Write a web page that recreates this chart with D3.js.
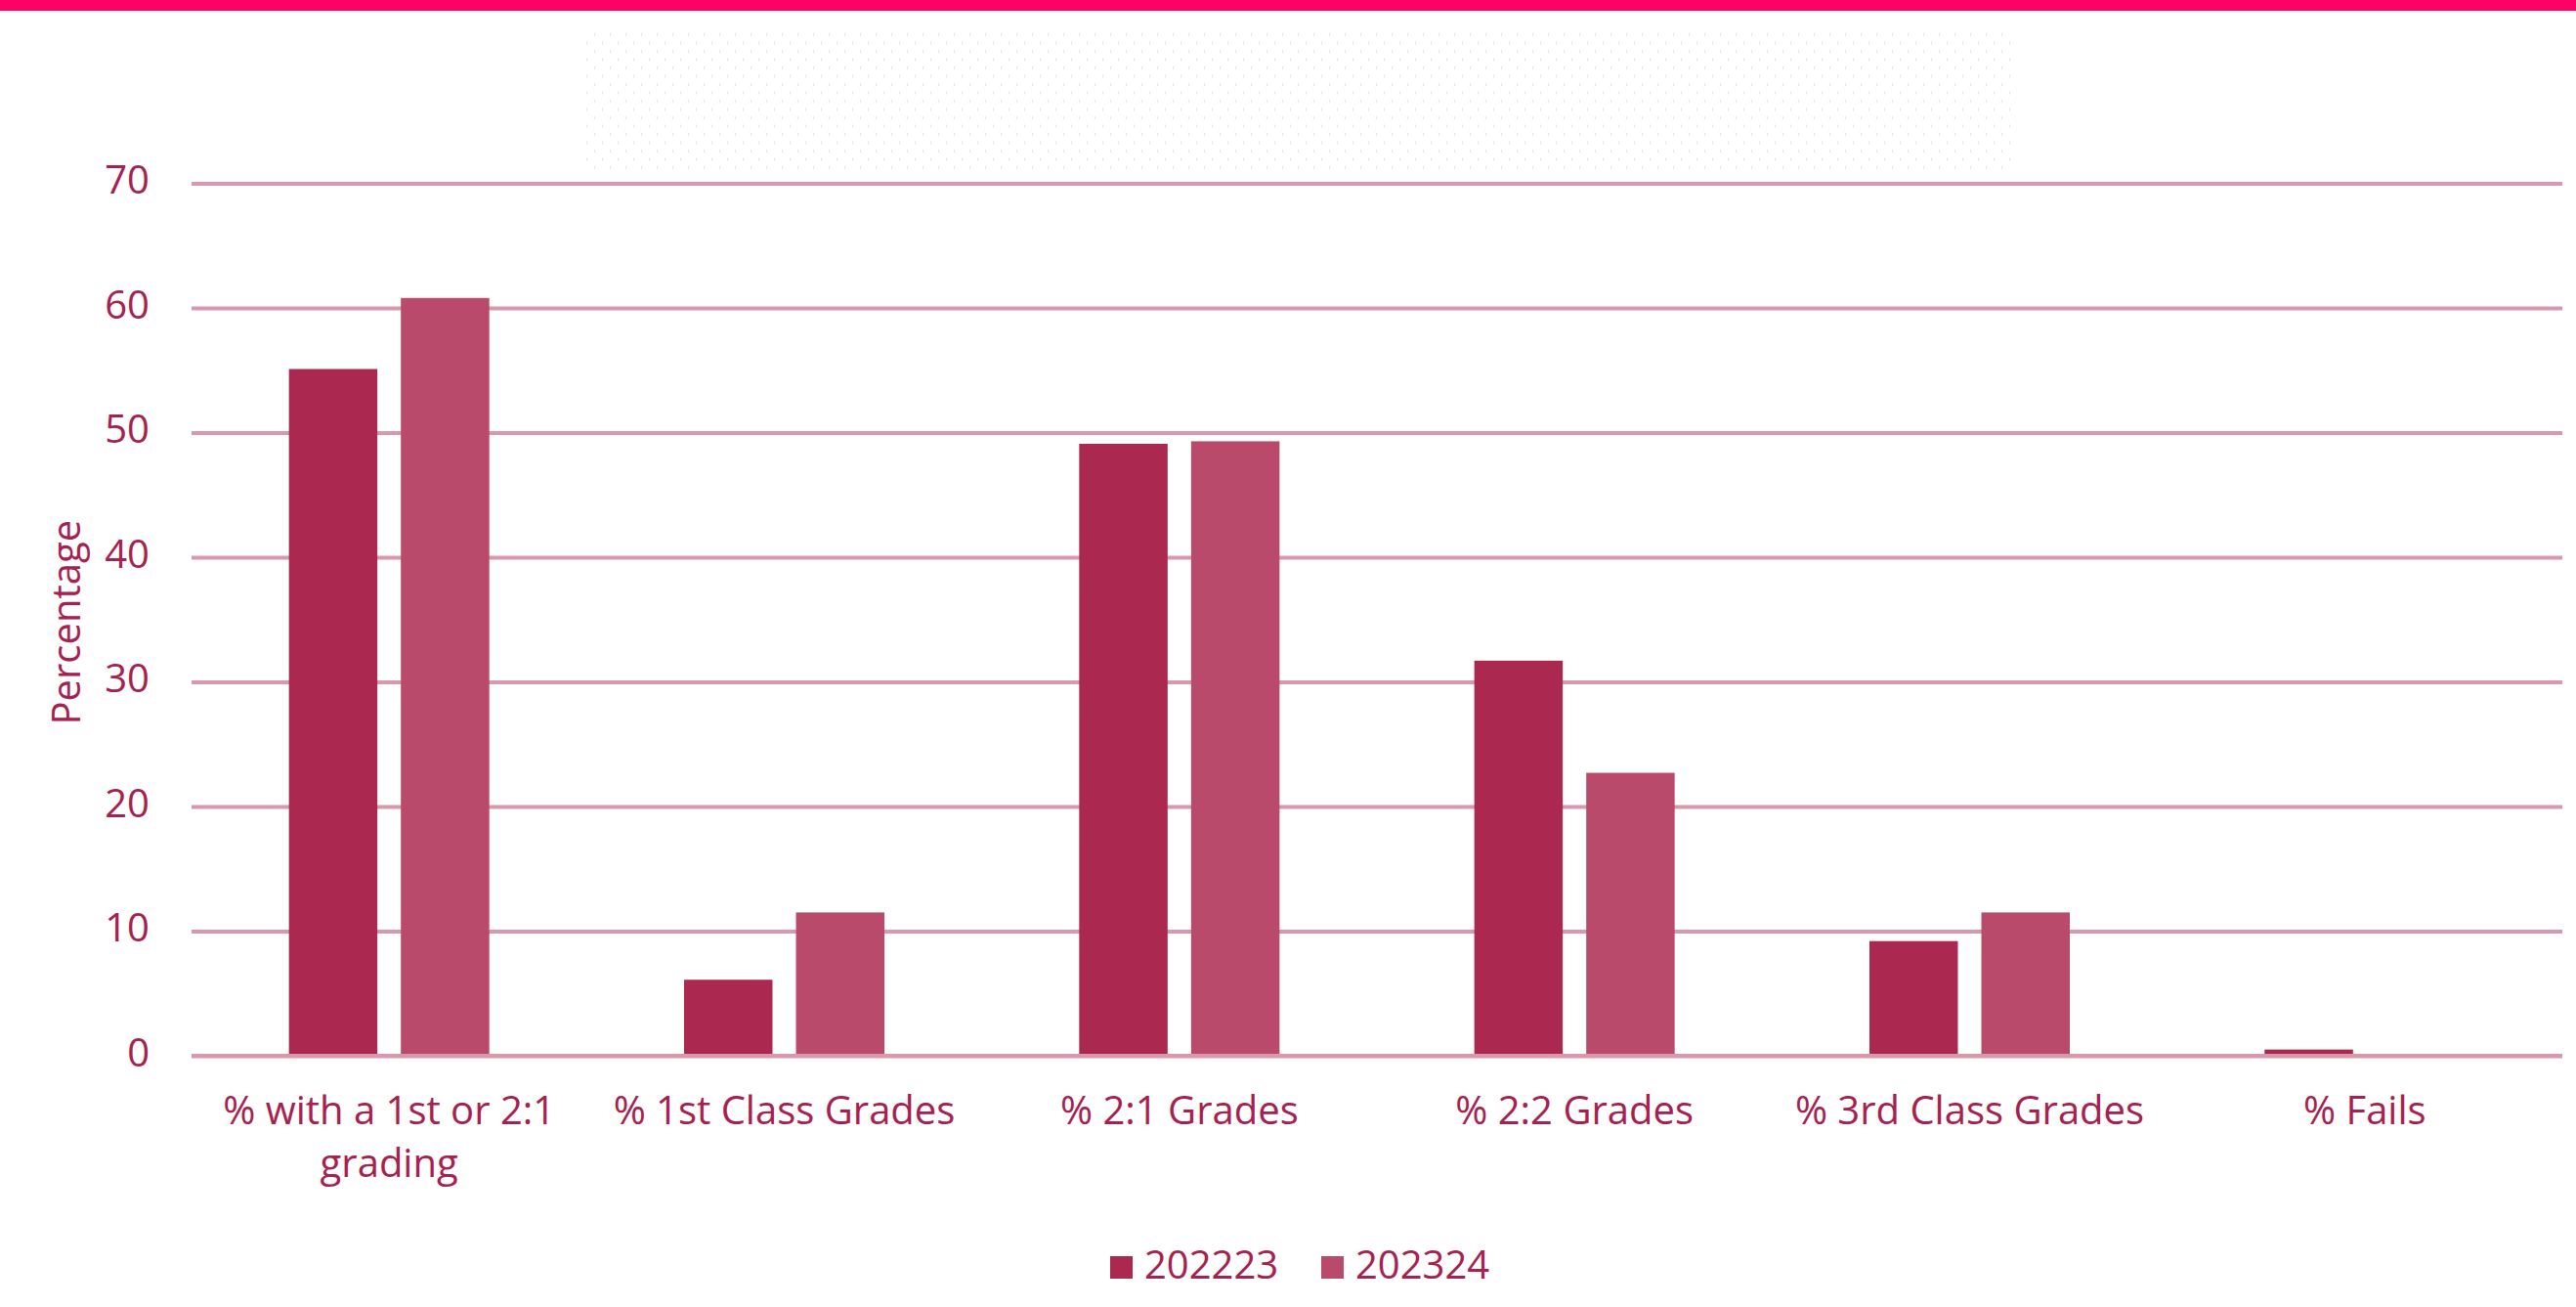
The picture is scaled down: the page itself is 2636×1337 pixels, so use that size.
<!DOCTYPE html>
<html>
<head>
	<meta charset="utf-8">
	<title> degree classifications </title>
	<script src="https://d3js.org/d3.v7.min.js"></script>
	<style>
		body { margin: 0; background: #fff; }
		svg text { font-family: "Open Sans", sans-serif; fill: #a6214f; }
	</style>
</head>
<body>
	<svg width="2636" height="1337"></svg>
	<script type="text/javascript">
		// data
		let categories = ["% with a 1st or 2:1 grading", "% 1st Class Grades", "% 2:1 Grades",
		                  "% 2:2 Grades", "% 3rd Class Grades", "% Fails"];
		let categoryLines = [["% with a 1st or 2:1", "grading"], ["% 1st Class Grades"], ["% 2:1 Grades"],
		                     ["% 2:2 Grades"], ["% 3rd Class Grades"], ["% Fails"]];
		let series = ["202223", "202324"];
		let values202223 = [55.1, 6.1, 49.1, 31.7, 9.2, 0.5];
		let values202324 = [60.8, 11.5, 49.3, 22.7, 11.5, 0];
		let yTicks = [0, 10, 20, 30, 40, 50, 60, 70];
		let colorSet = ["#ab2850", "#b94a6c"];

		let svg = d3.select("svg");
		let plotLeft = 196, plotRight = 2622, plotTop = 187.5, plotBottom = 1080;

		// pink strip on top
		svg.append("rect").attr("x", 0).attr("y", 0).attr("width", 2636).attr("height", 11).attr("fill", "#ff0066");

		// faint dotted panel behind the top of the chart
		let defs = svg.append("defs");
		let pat = defs.append("pattern").attr("id", "dots").attr("patternUnits", "userSpaceOnUse")
			.attr("width", 16).attr("height", 17);
		pat.append("rect").attr("x", 0).attr("y", 0).attr("width", 1).attr("height", 3).attr("fill", "#e6e6e6");
		pat.append("rect").attr("x", 8).attr("y", 8.5).attr("width", 1).attr("height", 3).attr("fill", "#e6e6e6");
		svg.append("rect").attr("x", 594).attr("y", 32).attr("width", 1470).attr("height", 146).attr("fill", "url(#dots)");

		let y = d3.scaleLinear().domain([0, 70]).range([plotBottom, plotTop]);
		let x0 = d3.scaleBand().domain(categories).range([plotLeft, plotRight]);
		let x1 = d3.scaleBand().domain(series).range([0, x0.bandwidth()]).paddingInner(0.21).paddingOuter(0.87);

		// grid + tick labels
		let yAxis = svg.append("g").attr("transform", "translate(" + plotLeft + ",0)")
			.call(d3.axisLeft(y).tickValues(yTicks).tickSize(-(plotRight - plotLeft)).tickPadding(43));
		yAxis.select(".domain").remove();
		yAxis.selectAll(".tick line").attr("stroke", "#d998ac").attr("stroke-width", 4);
		yAxis.selectAll(".tick text").attr("dy", "0.25em").style("font-size", "40px");

		// bars
		let rows = categories.map(function(c, i) { return { cat: c, vals: [values202223[i], values202324[i]] }; });
		let groups = svg.selectAll("g.grp").data(rows).join("g").attr("class", "grp")
			.attr("transform", function(d) { return "translate(" + x0(d.cat) + ",0)"; });
		groups.selectAll("rect").data(function(d) { return d.vals.map(function(v, i) { return { s: series[i], v: v, i: i }; }); })
			.join("rect")
			.attr("x", function(d) { return x1(d.s); })
			.attr("y", function(d) { return y(d.v); })
			.attr("width", x1.bandwidth())
			.attr("height", function(d) { return y(0) - y(d.v); })
			.attr("fill", function(d) { return colorSet[d.i]; });

		// baseline over the bars
		svg.append("line").attr("x1", plotLeft).attr("x2", plotRight).attr("y1", y(0)).attr("y2", y(0))
			.attr("stroke", "#d998ac").attr("stroke-width", 4);

		// category labels
		let xLab = svg.append("g");
		xLab.selectAll("text").data(categories).join("text")
			.attr("x", function(d) { return x0(d) + x0.bandwidth() / 2; })
			.attr("y", y(0) + 70)
			.attr("text-anchor", "middle")
			.style("font-size", "40px")
			.each(function(d, i) {
				let t = d3.select(this);
				categoryLines[i].forEach(function(line, k) {
					t.append("tspan").attr("x", x0(d) + x0.bandwidth() / 2).attr("dy", k == 0 ? 0 : 54).text(line);
				});
			});

		// y title
		svg.append("text").attr("transform", "translate(82," + ((plotTop + plotBottom) / 2 + 3) + ") rotate(-90)")
			.attr("text-anchor", "middle").style("font-size", "40px").text("Percentage");

		// legend
		let legend = svg.append("g").attr("transform", "translate(1136,1285)");
		let items = legend.selectAll("g").data(series).join("g")
			.attr("transform", function(d, i) { return "translate(" + (i * 216) + ",0)"; });
		items.append("rect").attr("width", 23).attr("height", 23).attr("fill", function(d, i) { return colorSet[i]; });
		items.append("text").attr("x", 35).attr("y", 23).style("font-size", "40px").text(function(d) { return d; });
	</script>
</body>
</html>
